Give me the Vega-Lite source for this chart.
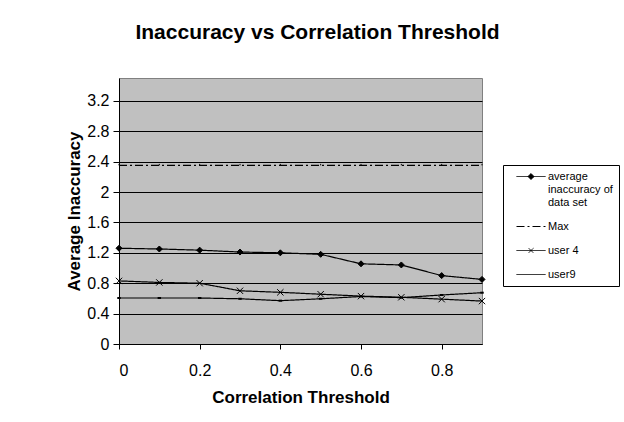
{
  "$schema": "https://vega.github.io/schema/vega-lite/v6.json",
  "width": 363,
  "height": 266,
  "autosize": "none",
  "padding": {"left": 119, "top": 78, "right": 142, "bottom": 78},
  "background": "white",
  "title": {
    "text": "Inaccuracy vs Correlation Threshold",
    "font": "Liberation Sans",
    "fontSize": 21,
    "fontWeight": "bold",
    "color": "black",
    "anchor": "middle",
    "frame": "group",
    "dx": 17,
    "baseline": "bottom",
    "offset": 14
  },
  "data": {
    "values": [
      {"t": 0.0, "series": "average inaccuracy of data set", "v": 1.26},
      {"t": 0.1, "series": "average inaccuracy of data set", "v": 1.25},
      {"t": 0.2, "series": "average inaccuracy of data set", "v": 1.235},
      {"t": 0.3, "series": "average inaccuracy of data set", "v": 1.21},
      {"t": 0.4, "series": "average inaccuracy of data set", "v": 1.2},
      {"t": 0.5, "series": "average inaccuracy of data set", "v": 1.18},
      {"t": 0.6, "series": "average inaccuracy of data set", "v": 1.055},
      {"t": 0.7, "series": "average inaccuracy of data set", "v": 1.04},
      {"t": 0.8, "series": "average inaccuracy of data set", "v": 0.9},
      {"t": 0.9, "series": "average inaccuracy of data set", "v": 0.85},
      {"t": 0.0, "series": "Max", "v": 2.35},
      {"t": 0.1, "series": "Max", "v": 2.35},
      {"t": 0.2, "series": "Max", "v": 2.35},
      {"t": 0.3, "series": "Max", "v": 2.35},
      {"t": 0.4, "series": "Max", "v": 2.35},
      {"t": 0.5, "series": "Max", "v": 2.35},
      {"t": 0.6, "series": "Max", "v": 2.35},
      {"t": 0.7, "series": "Max", "v": 2.35},
      {"t": 0.8, "series": "Max", "v": 2.35},
      {"t": 0.9, "series": "Max", "v": 2.35},
      {"t": 0.0, "series": "user 4", "v": 0.83},
      {"t": 0.1, "series": "user 4", "v": 0.81},
      {"t": 0.2, "series": "user 4", "v": 0.8},
      {"t": 0.3, "series": "user 4", "v": 0.7},
      {"t": 0.4, "series": "user 4", "v": 0.68},
      {"t": 0.5, "series": "user 4", "v": 0.655},
      {"t": 0.6, "series": "user 4", "v": 0.63},
      {"t": 0.7, "series": "user 4", "v": 0.615},
      {"t": 0.8, "series": "user 4", "v": 0.59},
      {"t": 0.9, "series": "user 4", "v": 0.565},
      {"t": 0.0, "series": "user9", "v": 0.605},
      {"t": 0.1, "series": "user9", "v": 0.605},
      {"t": 0.2, "series": "user9", "v": 0.605},
      {"t": 0.3, "series": "user9", "v": 0.595},
      {"t": 0.4, "series": "user9", "v": 0.57},
      {"t": 0.5, "series": "user9", "v": 0.595},
      {"t": 0.6, "series": "user9", "v": 0.625},
      {"t": 0.7, "series": "user9", "v": 0.61},
      {"t": 0.8, "series": "user9", "v": 0.645},
      {"t": 0.9, "series": "user9", "v": 0.675}
    ]
  },
  "encoding": {
    "x": {
      "field": "t", "type": "quantitative",
      "scale": {"domain": [0, 0.9], "nice": false, "zero": false},
      "axis": {
        "title": "Correlation Threshold",
        "values": [0, 0.2, 0.4, 0.6, 0.8],
        "format": "~g",
        "grid": false,
        "domainColor": "black",
        "tickColor": "black",
        "tickSize": 5,
        "labelPadding": 13,
        "labelFontSize": 16,
        "labelFont": "Liberation Sans",
        "labelColor": "black",
        "titleFont": "Liberation Sans",
        "titleFontSize": 17,
        "titleFontWeight": "bold",
        "titleColor": "black",
        "titlePadding": 11
      }
    },
    "y": {
      "field": "v", "type": "quantitative",
      "scale": {"domain": [0, 3.5], "nice": false},
      "axis": {
        "title": "Average Inaccuracy",
        "values": [0, 0.4, 0.8, 1.2, 1.6, 2, 2.4, 2.8, 3.2],
        "format": "~g",
        "grid": true,
        "gridColor": "black",
        "gridOpacity": 1,
        "gridWidth": 1,
        "domainColor": "black",
        "tickColor": "black",
        "tickSize": 6,
        "labelPadding": 4,
        "labelFontSize": 16,
        "labelFont": "Liberation Sans",
        "labelColor": "black",
        "titleFont": "Liberation Sans",
        "titleFontSize": 17,
        "titleFontWeight": "bold",
        "titleColor": "black",
        "titlePadding": 3
      }
    }
  },
  "layer": [
    {
      "mark": {"type": "line", "color": "black", "strokeWidth": 1.2},
      "encoding": {
        "detail": {"field": "series"},
        "strokeDash": {
          "field": "series", "type": "nominal",
          "scale": {
            "domain": ["average inaccuracy of data set", "Max", "user 4", "user9"],
            "range": [[1, 0], [8, 3, 2, 3], [1, 0], [1, 0]]
          },
          "legend": {
            "title": null,
            "orient": "none",
            "legendX": 384,
            "legendY": 87,
            "strokeColor": "black",
            "fillColor": "white",
            "padding": 6,
            "symbolSize": 100,
            "symbolType": "M-1,0L1,0",
            "symbolStrokeColor": "black",
            "symbolStrokeWidth": 1,
            "labelFont": "Liberation Sans",
            "labelFontSize": 11,
            "labelColor": "black",
            "labelOffset": 28,
            "rowPadding": 12,
            "labelExpr": "datum.label == 'average inaccuracy of data set' ? ['average', 'inaccuracy of', 'data set'] : datum.label",
            "encode": {
              "symbols": {
                "update": {
                  "shape": {"signal": "datum.value == 'average inaccuracy of data set' ? 'M0.4,0L6.2,0M3.3,-0.6L3.9,0L3.3,0.6L2.7,0Z' : datum.value == 'user 4' ? 'M0.4,0L6.2,0M2.85,-0.45L3.75,0.45M2.85,0.45L3.75,-0.45' : 'M0.4,0L6.2,0'"},
                  "fill": {"value": "black"},
                  "stroke": {"value": "black"},
                  "strokeWidth": {"value": 1}
                }
              }
            }
          }
        }
      }
    },
    {
      "transform": [{"filter": "datum.series == 'average inaccuracy of data set'"}],
      "mark": {"type": "point", "shape": "diamond", "size": 36, "fill": "black", "stroke": "black", "strokeWidth": 1, "opacity": 1},
      "encoding": {}
    },
    {
      "transform": [{"filter": "datum.series == 'user 4'"}],
      "mark": {"type": "point", "shape": "M-1,-1L1,1M-1,1L1,-1", "size": 40, "fill": "black", "stroke": "black", "strokeWidth": 1, "opacity": 1},
      "encoding": {}
    },
    {
      "transform": [{"filter": "datum.series == 'user9'"}],
      "mark": {"type": "point", "shape": "M-1,0L1,0", "size": 12, "stroke": "black", "strokeWidth": 2, "opacity": 1},
      "encoding": {}
    },
    {
      "transform": [{"filter": "datum.series == 'Max'"}],
      "mark": {"type": "point", "shape": "M0,-1L0,0", "size": 9, "stroke": "black", "strokeWidth": 1, "opacity": 1},
      "encoding": {}
    }
  ],
  "config": {
    "view": {"fill": "#c0c0c0", "stroke": "#808080", "strokeWidth": 1}
  }
}
